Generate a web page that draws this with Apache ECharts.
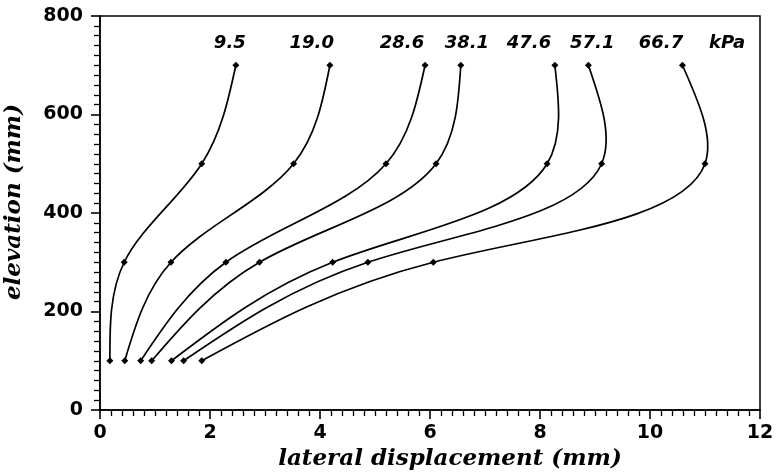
<!DOCTYPE html>
<html>
<head>
<meta charset="utf-8">
<script src="https://cdn.jsdelivr.net/npm/echarts@6/dist/echarts.min.js"></script>
<style>
    html, body { margin: 0; padding: 0; background: #fff; }
    #chart { width: 776px; height: 472px; }
</style>
</head>
<body>
<div id="chart"></div>
<script>
    // elevations where the gauges are (mm)
    var elevations = [100, 300, 500, 700]

    // surcharge pressure (kPa) and lateral displacement at each elevation (mm)
    var pressures = ['9.5', '19.0', '28.6', '38.1', '47.6', '57.1', '66.7']
    var displacements = [
        [0.18, 0.44, 1.85, 2.47],
        [0.45, 1.29, 3.52, 4.18],
        [0.74, 2.29, 5.20, 5.91],
        [0.94, 2.90, 6.11, 6.56],
        [1.30, 4.23, 8.13, 8.27],
        [1.52, 4.87, 9.12, 8.88],
        [1.85, 6.06, 11.00, 10.59]
    ]

    // where the pressure labels sit (data units)
    var labelX = [2.36, 3.85, 5.49, 6.67, 7.80, 8.95, 10.20, 11.40]
    var labelY = 745
    var labelText = pressures.concat(['kPa'])

    var chart = echarts.init(document.getElementById('chart'))

    // first derivatives of a natural cubic spline v(t) at its knots
    function splineSlopes(ts, vs) {
        var n = ts.length, h = [], i
        for (i = 0; i < n - 1; i++) h.push(ts[i + 1] - ts[i])
        var a = [], b = [], c = [], d = []
        for (i = 1; i < n - 1; i++) {
            a.push(h[i - 1])
            b.push(2 * (h[i - 1] + h[i]))
            c.push(h[i])
            d.push(6 * ((vs[i + 1] - vs[i]) / h[i] - (vs[i] - vs[i - 1]) / h[i - 1]))
        }
        var m = d.length
        for (i = 1; i < m; i++) {
            var w = a[i] / b[i - 1]
            b[i] -= w * c[i - 1]
            d[i] -= w * d[i - 1]
        }
        var inner = new Array(m)
        for (i = m - 1; i >= 0; i--) {
            inner[i] = (d[i] - (i < m - 1 ? c[i] * inner[i + 1] : 0)) / b[i]
        }
        var M = [0].concat(inner).concat([0])
        var s = []
        for (i = 0; i < n - 1; i++) {
            s.push((vs[i + 1] - vs[i]) / h[i] - h[i] * (2 * M[i] + M[i + 1]) / 6)
        }
        s.push((vs[n - 1] - vs[n - 2]) / h[n - 2] + h[n - 2] * (M[n - 2] + 2 * M[n - 1]) / 6)
        return s
    }

    // parametric spline through the points, drawn as bezier pieces
    var renderCurve = function (params, api) {
        var ci = api.value(0)
        var pts = elevations.map(function (y, j) { return api.coord([displacements[ci][j], y]) })
        var ts = [0]
        for (var j = 1; j < pts.length; j++) {
            var dx = pts[j][0] - pts[j - 1][0], dy = pts[j][1] - pts[j - 1][1]
            ts.push(ts[j - 1] + Math.pow(dx * dx + dy * dy, 0.375))
        }
        var sx = splineSlopes(ts, pts.map(function (p) { return p[0] }))
        var sy = splineSlopes(ts, pts.map(function (p) { return p[1] }))
        var children = []
        for (var i = 0; i < pts.length - 1; i++) {
            var h = (ts[i + 1] - ts[i]) / 3
            children.push({
                type: 'bezierCurve',
                shape: {
                    x1: pts[i][0], y1: pts[i][1],
                    x2: pts[i + 1][0], y2: pts[i + 1][1],
                    cpx1: pts[i][0] + sx[i] * h, cpy1: pts[i][1] + sy[i] * h,
                    cpx2: pts[i + 1][0] - sx[i + 1] * h, cpy2: pts[i + 1][1] - sy[i + 1] * h
                },
                style: { stroke: '#000', lineWidth: 1.7, fill: null }
            })
        }
        return { type: 'group', children: children }
    }

    var series = []
    series.push({
        type: 'custom',
        renderItem: renderCurve,
        data: pressures.map(function (p, i) { return [i, i] }),
        silent: true,
        animation: false
    })

    var points = []
    for (var i = 0; i < pressures.length; i++) {
        for (var j = 0; j < elevations.length; j++) {
            points.push([displacements[i][j], elevations[j]])
        }
    }
    series.push({
        type: 'scatter',
        data: points,
        symbol: 'diamond',
        symbolSize: 7,
        itemStyle: { color: '#000', opacity: 1 },
        animation: false
    })

    var labelData = []
    for (var k = 0; k < labelText.length; k++) {
        labelData.push({ value: [labelX[k], labelY], name: labelText[k] })
    }
    series.push({
        type: 'scatter',
        data: labelData,
        symbolSize: 1,
        silent: true,
        animation: false,
        itemStyle: { opacity: 0 },
        label: {
            show: true,
            position: 'inside',
            formatter: '{b}',
            color: '#000',
            opacity: 1,
            fontFamily: 'DejaVu Sans',
            fontStyle: 'italic',
            fontWeight: 'bold',
            fontSize: 18
        }
    })

    var tickFont = {
        color: '#000',
        fontFamily: 'DejaVu Sans',
        fontWeight: 'bold',
        fontSize: 19
    }
    var nameFont = {
        color: '#000',
        fontFamily: 'DejaVu Serif',
        fontStyle: 'italic',
        fontWeight: 'bold',
        fontSize: 23
    }

    var option = {
        backgroundColor: '#fff',
        grid: {
            left: 100, right: 16, top: 16, bottom: 62,
            outerBoundsMode: 'none',
            containLabel: false,
            show: true,
            borderColor: '#000',
            borderWidth: 1.5
        },
        xAxis: {
            type: 'value',
            min: 0, max: 12, interval: 2,
            name: 'lateral displacement (mm)',
            nameLocation: 'middle',
            nameGap: 34,
            nameTextStyle: Object.assign({ padding: [0, 0, 0, 40] }, nameFont),
            axisLine: { lineStyle: { color: '#000', width: 1.6 } },
            axisTick: { length: 9, lineStyle: { color: '#000', width: 1.6 } },
            minorTick: { show: true, splitNumber: 10, length: 6, lineStyle: { color: '#000', width: 1.3 } },
            splitLine: { show: false },
            axisLabel: Object.assign({ margin: 14 }, tickFont)
        },
        yAxis: {
            type: 'value',
            min: 0, max: 800, interval: 200,
            name: 'elevation (mm)',
            nameLocation: 'middle',
            nameGap: 74,
            nameTextStyle: Object.assign({ padding: [0, 0, 0, 22] }, nameFont),
            axisLine: { lineStyle: { color: '#000', width: 1.6 } },
            axisTick: { length: 9, lineStyle: { color: '#000', width: 1.6 } },
            minorTick: { show: true, splitNumber: 10, length: 6, lineStyle: { color: '#000', width: 1.3 } },
            splitLine: { show: false },
            axisLabel: Object.assign({ margin: 17 }, tickFont)
        },
        series: series
    }

    chart.setOption(option)
</script>
</body>
</html>
